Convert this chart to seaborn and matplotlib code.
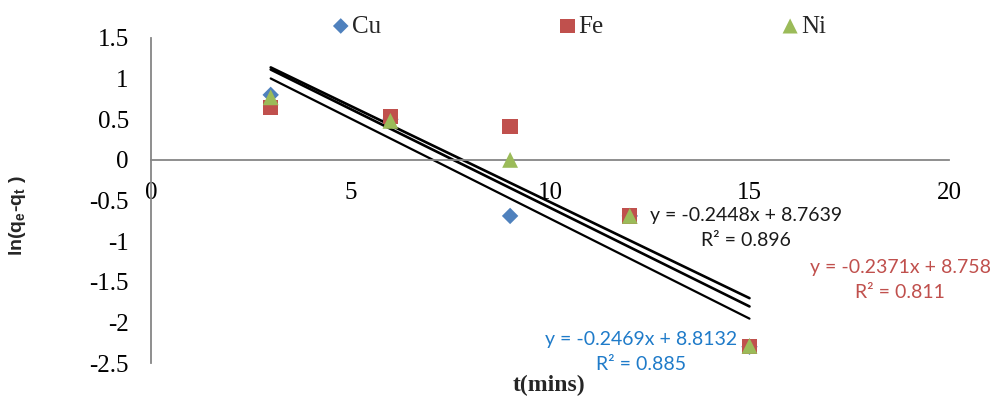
import numpy as np
import pandas as pd
import matplotlib
matplotlib.use("Agg")
import matplotlib.pyplot as plt
from matplotlib.font_manager import FontProperties, findfont
import seaborn as sns

# ---- data ----
time_min = [3, 6, 9, 12, 15]
cu_vals = [0.80, 0.50, -0.69, -0.69, -2.30]
fe_vals = [0.64, 0.53, 0.41, -0.69, -2.30]
ni_vals = [0.77, 0.48, 0.00, -0.69, -2.29]
series_names = ["Cu", "Fe", "Ni"]
x_ticks = [0, 5, 10, 15, 20]
y_ticks = [-2.5, -2, -1.5, -1, -0.5, 0, 0.5, 1, 1.5]
eq_cu = ["y = -0.2469x + 8.8132", "R² = 0.885"]
eq_fe = ["y = -0.2371x + 8.758", "R² = 0.811"]
eq_ni = ["y = -0.2448x + 8.7639", "R² = 0.896"]

sns.set_style("white")
serif = ["Liberation Serif", "DejaVu Serif"]
plt.rcParams["font.family"] = serif
plt.rcParams["axes.unicode_minus"] = False

serif_path = findfont(FontProperties(family="Liberation Serif"))
tick_fp = FontProperties(fname=serif_path, size=18)

df = pd.DataFrame({
    "t": time_min * 3,
    "val": cu_vals + fe_vals + ni_vals,
    "metal": [n for n in series_names for _ in time_min],
})

fig = plt.figure(figsize=(9.98, 3.97), dpi=100)
ax = fig.add_axes([151 / 998, 1 - 363 / 397, (949 - 151) / 998, (363 - 38) / 397])

colors = {"Cu": "#4F81BD", "Fe": "#C0504D", "Ni": "#9BBB59"}
markers = {"Cu": "D", "Fe": "s", "Ni": "^"}
sizes = {"Cu": 70, "Fe": 120, "Ni": 130}

# trend lines
for name, lw in zip(series_names, [1.6, 1.9, 1.9]):
    sub = df[df.metal == name]
    sns.regplot(data=sub, x="t", y="val", scatter=False, ci=None, truncate=True,
                color="black", line_kws={"lw": lw, "zorder": 2}, ax=ax)

for name in series_names:
    sub = df[df.metal == name]
    sns.scatterplot(data=sub, x="t", y="val", marker=markers[name], s=sizes[name],
                    color=colors[name], edgecolor="none", linewidth=0, ax=ax,
                    zorder=3, label=name)

for s in ["top", "right"]:
    ax.spines[s].set_visible(False)
ax.spines["bottom"].set_position(("data", 0))
for s in ["left", "bottom"]:
    ax.spines[s].set_color("#868686")
    ax.spines[s].set_linewidth(1.3)

ax.set_xlim(0, 20)
ax.set_ylim(-2.5, 1.5)
ax.set_xticks(x_ticks, [str(v) for v in x_ticks])
ax.set_yticks(y_ticks, [("%g" % v) for v in y_ticks])
ax.tick_params(axis="both", which="major", direction="out", length=6, width=1.3,
               color="#868686", labelcolor="black", labelsize=18)
ax.tick_params(axis="x", pad=10)
ax.tick_params(axis="y", pad=10)
ax.set_xlabel("")
ax.set_ylabel("")

leg = ax.legend(loc="center", bbox_to_anchor=(0.535, 1.036), ncol=3, frameon=False,
                columnspacing=7.0, handletextpad=0.0, handlelength=0.9,
                prop={"family": serif, "size": 18}, markerscale=0.95)

fig.text(549 / 998, 1 - 385 / 397, "t(mins)", ha="center", va="center",
         fontsize=17, fontweight="bold", family=serif)
fig.text(17 / 998, 1 - 216 / 397, "ln(q$_\\mathregular{e}$-q$_\\mathregular{t}$ )",
         rotation=90, ha="center", va="center", fontsize=14, fontweight="bold",
         family=["Liberation Sans Narrow", "Liberation Sans", "DejaVu Sans"])

eq_font = ["Lato", "DejaVu Sans"]
def put_eq(lines, cx, y1, color):
    fig.text(cx / 998, 1 - y1 / 397, lines[0], ha="center", va="center",
             fontsize=14, color=color, family=eq_font)
    fig.text(cx / 998, 1 - (y1 + 25) / 397, lines[1], ha="center", va="center",
             fontsize=14, color=color, family=eq_font)

put_eq(eq_ni, 746, 215, "#1a1a1a")
put_eq(eq_fe, 900, 268, "#C0504D")
put_eq(eq_cu, 641, 340, "#1F7BC9")

fig.canvas.draw()
for lab in ax.get_xticklabels() + ax.get_yticklabels():
    lab.set_fontproperties(tick_fp)

fig.savefig("out.png", dpi=100)
